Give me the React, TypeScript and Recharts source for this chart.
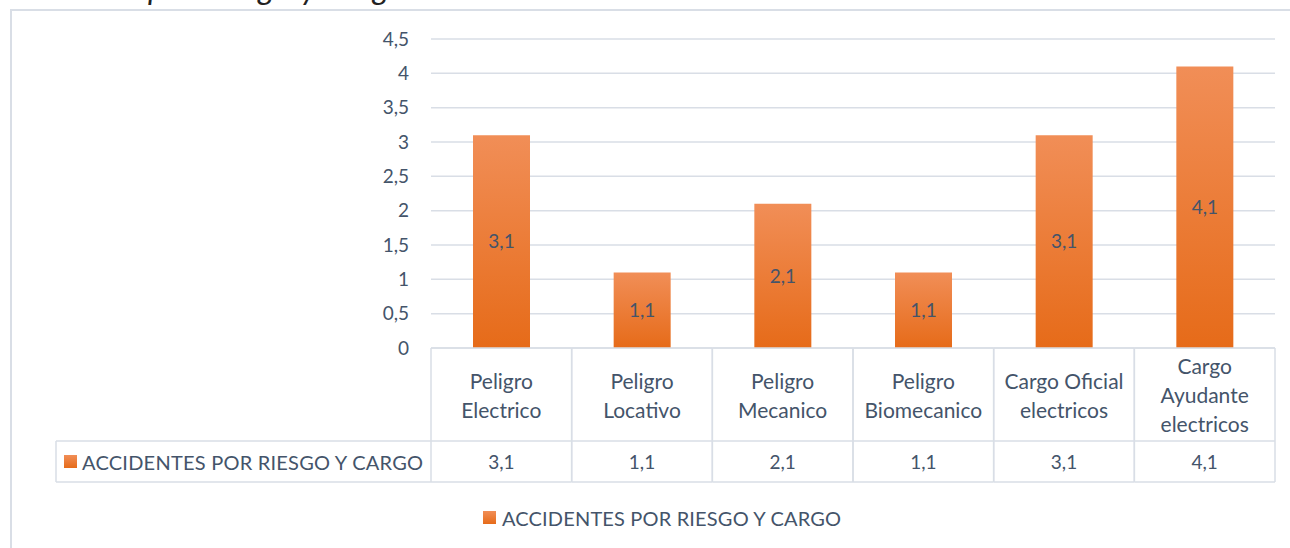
import { BarChart, Bar, XAxis, YAxis, CartesianGrid, LabelList } from 'recharts';

const categories = [
  'Peligro\nElectrico',
  'Peligro\nLocativo',
  'Peligro\nMecanico',
  'Peligro\nBiomecanico',
  'Cargo Oficial\nelectricos',
  'Cargo\nAyudante\nelectricos',
];
const accidentes = [3.1, 1.1, 2.1, 1.1, 3.1, 4.1];
const yTicks = [0, 0.5, 1, 1.5, 2, 2.5, 3, 3.5, 4, 4.5];
const seriesName = 'ACCIDENTES POR RIESGO Y CARGO';

const data = categories.map((name, i) => ({ name, value: accidentes[i] }));

const FONT = 'Lato, "Open Sans", sans-serif';
const TEXT = '#44546A';
const LINE = '#D9DEE6';
const WORD_SIZE = 21;
const NUM_SIZE = 19;

const fmt = (v: number) => String(v).replace('.', ',');

function TableTick({ x, y, payload, index, width }: any) {
  const band = width / categories.length;
  const left = x - band / 2;
  const right = x + band / 2;
  const headerH = 93;
  const rowH = 41;
  const lines = String(payload.value).split('\n');
  const lh = 29;
  const startY = y + headerH / 2 - ((lines.length - 1) * lh) / 2;
  const val = accidentes[index];
  return (
    <g>
      <line x1={left} x2={right} y1={y} y2={y} stroke={LINE} strokeWidth={1.5} />
      <line x1={left} x2={right} y1={y + headerH} y2={y + headerH} stroke={LINE} strokeWidth={1.5} />
      <line x1={left} x2={right} y1={y + headerH + rowH} y2={y + headerH + rowH} stroke={LINE} strokeWidth={1.5} />
      <line x1={left} x2={left} y1={y} y2={y + headerH + rowH} stroke={LINE} strokeWidth={1.5} />
      <line x1={right} x2={right} y1={y} y2={y + headerH + rowH} stroke={LINE} strokeWidth={1.5} />
      {lines.map((ln, i) => (
        <text key={i} x={x} y={startY + i * lh} textAnchor="middle" dominantBaseline="central"
          fontFamily={FONT} fontSize={WORD_SIZE} fill={TEXT}>{ln}</text>
      ))}
      <text x={x} y={y + headerH + rowH / 2} textAnchor="middle" dominantBaseline="central"
        fontFamily={FONT} fontSize={NUM_SIZE} fill={TEXT}>{fmt(val)}</text>
      {index === 0 && (
        <g>
          <line x1={56} x2={left} y1={y + headerH} y2={y + headerH} stroke={LINE} strokeWidth={1.5} />
          <line x1={56} x2={left} y1={y + headerH + rowH} y2={y + headerH + rowH} stroke={LINE} strokeWidth={1.5} />
          <line x1={56} x2={56} y1={y + headerH} y2={y + headerH + rowH} stroke={LINE} strokeWidth={1.5} />
          <rect x={64} y={y + headerH + 14} width={13} height={13} fill="url(#barGrad)" />
          <text x={82} y={y + headerH + rowH / 2} dominantBaseline="central" textLength={341}
            fontFamily={FONT} fontSize={20} fill={TEXT}>{seriesName}</text>
        </g>
      )}
    </g>
  );
}

export default function App() {
  return (
    <div style={{ position: 'fixed', left: 0, top: 0, width: 1290, height: 548, overflow: 'hidden', background: '#fff' }}>
      {/* caption above the chart, cut off by the crop of the picture */}
      <svg width={1290} height={20} style={{ position: 'absolute', left: 0, top: 0 }}>
        <text x={140} y={-1} textAnchor="end" fontFamily={FONT} fontStyle="italic" fontSize={32} fill="#222">
          Accidentes
        </text>
        <text x={148} y={-1} textLength={258} fontFamily={FONT} fontStyle="italic" fontSize={32} fill="#222">
          por riesgo y cargo
        </text>
      </svg>
      <div style={{ position: 'absolute', left: 10, top: 9, width: 1280, height: 2, background: LINE }} />
      <div style={{ position: 'absolute', left: 10, top: 9, width: 2, height: 539, background: LINE }} />
      <div style={{ position: 'absolute', left: 0, top: 0 }}>
        <BarChart width={1290} height={548} data={data}
          margin={{ top: 39, right: 15, left: 371, bottom: 66 }}>
          <defs>
            <linearGradient id="barGrad" x1="0" y1="0" x2="0" y2="1">
              <stop offset="0%" stopColor="#F18E57" />
              <stop offset="100%" stopColor="#E66B19" />
            </linearGradient>
          </defs>
          <CartesianGrid vertical={false} stroke={LINE} strokeWidth={1.5} />
          <YAxis width={60} domain={[0, 4.5]} ticks={yTicks} interval={0} axisLine={false} tickLine={false}
            tickSize={0} tickMargin={22} tickFormatter={fmt}
            tick={{ fontFamily: FONT, fontSize: NUM_SIZE, fill: TEXT }} />
          <XAxis dataKey="name" height={134} axisLine={false} tickLine={false} tickSize={0} tickMargin={0}
            interval={0} tick={<TableTick />} />
          <Bar dataKey="value" name={seriesName} fill="url(#barGrad)" barSize={57} isAnimationActive={false}>
            <LabelList dataKey="value" position="center" formatter={(v: any) => fmt(v)}
              style={{ fontFamily: FONT, fontSize: NUM_SIZE, fill: TEXT }} />
          </Bar>
        </BarChart>
      </div>
      <svg width={400} height={30} style={{ position: 'absolute', left: 480, top: 503 }}>
        <defs>
          <linearGradient id="legGrad" x1="0" y1="0" x2="0" y2="1">
            <stop offset="0%" stopColor="#F18E57" />
            <stop offset="100%" stopColor="#E66B19" />
          </linearGradient>
        </defs>
        <rect x={3} y={8} width={13} height={13} fill="url(#legGrad)" />
        <text x={22} y={15} dominantBaseline="central" textLength={339}
          fontFamily={FONT} fontSize={20} fill={TEXT}>{seriesName}</text>
      </svg>
    </div>
  );
}
